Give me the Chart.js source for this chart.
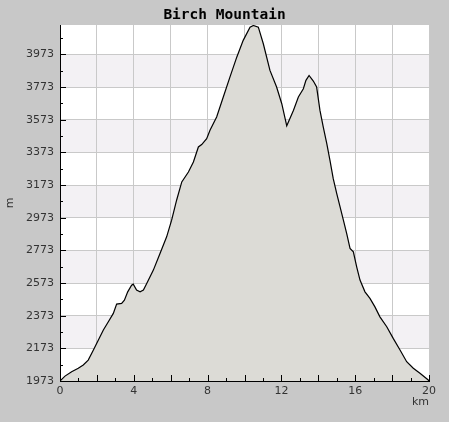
<!DOCTYPE html>
<html lang="en">
<head>
  <meta charset="UTF-8">
  <title>Birch Mountain</title>
  <script src="https://cdn.jsdelivr.net/npm/chart.js"></script>
  <style>
    body { margin: 0; padding: 0; background: #c8c8c8; }
    canvas { display: block; }
  </style>
</head>
<body>
  <canvas id="profile" width="449" height="422"></canvas>
  <script>
    // distance along the route (km) and elevation (m)
    const distanceKm = [0, 0.27, 0.63, 0.99, 1.26, 1.53, 1.81, 2.08, 2.35, 2.62, 2.89, 3.07, 3.34, 3.49, 3.67, 3.88, 3.97, 4.15, 4.34, 4.52,
      4.7, 5.06, 5.42, 5.78, 6.05, 6.32, 6.6, 6.96, 7.23, 7.5, 7.68, 7.95, 8.13, 8.49, 8.85, 9.21, 9.58, 9.93, 10.3, 10.48,
      10.75, 11.02, 11.38, 11.74, 12.02, 12.29, 12.65, 12.92, 13.19, 13.33, 13.5, 13.73, 13.91, 14.09, 14.27, 14.46, 14.63, 14.81, 15.0, 15.18,
      15.36, 15.54, 15.72, 15.9, 16.08, 16.26, 16.53, 16.8, 17.07, 17.34, 17.71, 18.06, 18.43, 18.79, 19.15, 19.51, 19.96, 20];
    const elevationM = [1973, 2003, 2030, 2051, 2071, 2101, 2163, 2224, 2285, 2336, 2387, 2444, 2448, 2468, 2519, 2560, 2566, 2530, 2519, 2530,
      2570, 2652, 2754, 2856, 2958, 3080, 3192, 3253, 3314, 3406, 3421, 3457, 3508, 3590, 3712, 3834, 3956, 4059, 4140, 4150,
      4140, 4038, 3875, 3773, 3671, 3536, 3630, 3712, 3763, 3814, 3844, 3810, 3773, 3630, 3528, 3427, 3325, 3212, 3121, 3039,
      2958, 2876, 2785, 2764, 2672, 2591, 2519, 2479, 2427, 2366, 2305, 2234, 2163, 2091, 2051, 2020, 1979, 1973];

    // tick positions: labelled every 200 m / 4 km, grid every 200 m / 2 km
    const yTicks = [1973, 2073, 2173, 2273, 2373, 2473, 2573, 2673, 2773, 2873, 2973, 3073, 3173, 3273, 3373, 3473, 3573, 3673, 3773, 3873, 3973, 4073];
    const xTicks = [0, 1, 2, 3, 4, 5, 6, 7, 8, 9, 10, 11, 12, 13, 14, 15, 16, 17, 18, 19, 20];
    const yMin = 1973, yMax = 4153;

    const points = distanceKm.map((d, i) => ({ x: d, y: elevationM[i] }));

    const isMajorY = v => (v - yMin) % 200 === 0;
    const isGridX = v => v % 2 === 0;

    // white plot area with alternating light bands, canvas grey around it
    const bands = {
      id: 'bands',
      beforeDraw(chart) {
        const { ctx, chartArea: a, scales: { y } } = chart;
        ctx.save();
        ctx.fillStyle = '#c8c8c8';
        ctx.fillRect(0, 0, chart.width, chart.height);
        ctx.fillStyle = '#ffffff';
        ctx.fillRect(a.left, a.top, a.right - a.left, a.bottom - a.top);
        ctx.fillStyle = '#f3f1f4';
        const major = yTicks.filter(isMajorY);
        for (let i = 1; i < major.length; i += 2) {
          const y0 = y.getPixelForValue(major[i]);
          const y1 = i + 1 < major.length ? y.getPixelForValue(major[i + 1]) : a.top;
          ctx.fillRect(a.left, y1, a.right - a.left, y0 - y1);
        }
        ctx.restore();
      }
    };

    // tick marks point inward, short for minor ones; title drawn on top
    const innerTicks = {
      id: 'innerTicks',
      afterDatasetsDraw(chart) {
        const { ctx, chartArea: a, scales: { x, y } } = chart;
        ctx.save();
        ctx.strokeStyle = '#000';
        ctx.lineWidth = 1;
        ctx.beginPath();
        yTicks.forEach(v => {
          const py = Math.round(y.getPixelForValue(v)) + 0.5;
          const len = isMajorY(v) ? 6 : 3;
          ctx.moveTo(a.left, py);
          ctx.lineTo(a.left + len, py);
        });
        xTicks.forEach(v => {
          const px = Math.round(x.getPixelForValue(v)) + 0.5;
          const len = isGridX(v) ? 6 : 3;
          ctx.moveTo(px, a.bottom);
          ctx.lineTo(px, a.bottom - len);
        });
        ctx.stroke();
        ctx.fillStyle = '#000';
        ctx.font = 'bold 14.5px "DejaVu Sans Mono"';
        ctx.textAlign = 'center';
        ctx.textBaseline = 'alphabetic';
        ctx.fillText('Birch Mountain', chart.width / 2, 19);
        ctx.restore();
      }
    };

    new Chart(document.getElementById('profile'), {
      type: 'line',
      data: {
        datasets: [{
          data: points,
          borderColor: '#000',
          borderWidth: 1.2,
          backgroundColor: '#dcdbd6',
          fill: 'start',
          pointRadius: 0,
          tension: 0
        }]
      },
      options: {
        responsive: false,
        animation: false,
        layout: { padding: { top: 25, right: 20, left: 0, bottom: 0 } },
        plugins: { legend: { display: false }, tooltip: { enabled: false } },
        scales: {
          x: {
            type: 'linear',
            min: 0,
            max: 20,
            afterBuildTicks: s => { s.ticks = xTicks.map(v => ({ value: v })); },
            afterFit: s => { s.height = 41; },
            grid: {
              drawTicks: false,
              color: c => isGridX(c.tick.value) && c.tick.value !== 0 ? '#c9c9c9' : 'rgba(0,0,0,0)'
            },
            border: { color: '#000', width: 1 },
            ticks: {
              autoSkip: false,
              maxRotation: 0,
              padding: 4,
              color: '#333',
              font: { family: 'DejaVu Sans', size: 11 },
              callback: v => v % 4 === 0 ? String(v) : ''
            },
            title: {
              display: true,
              text: 'km',
              align: 'end',
              color: '#333',
              font: { family: 'DejaVu Sans', size: 11 },
              padding: { top: 0, bottom: 13 }
            }
          },
          y: {
            type: 'linear',
            min: yMin,
            max: yMax,
            afterBuildTicks: s => { s.ticks = yTicks.map(v => ({ value: v })); },
            afterFit: s => { s.width = 60; },
            grid: {
              drawTicks: false,
              color: c => isMajorY(c.tick.value) && c.tick.value !== yMin ? '#c9c9c9' : 'rgba(0,0,0,0)'
            },
            border: { color: '#000', width: 1 },
            ticks: {
              autoSkip: false,
              padding: 6,
              color: '#333',
              font: { family: 'DejaVu Sans', size: 11 },
              callback: v => isMajorY(v) ? String(v) : ''
            },
            title: {
              display: true,
              text: 'm',
              color: '#333',
              font: { family: 'DejaVu Sans', size: 11 },
              padding: { top: 4, bottom: 0 }
            }
          }
        }
      },
      plugins: [bands, innerTicks]
    });
  </script>
</body>
</html>
